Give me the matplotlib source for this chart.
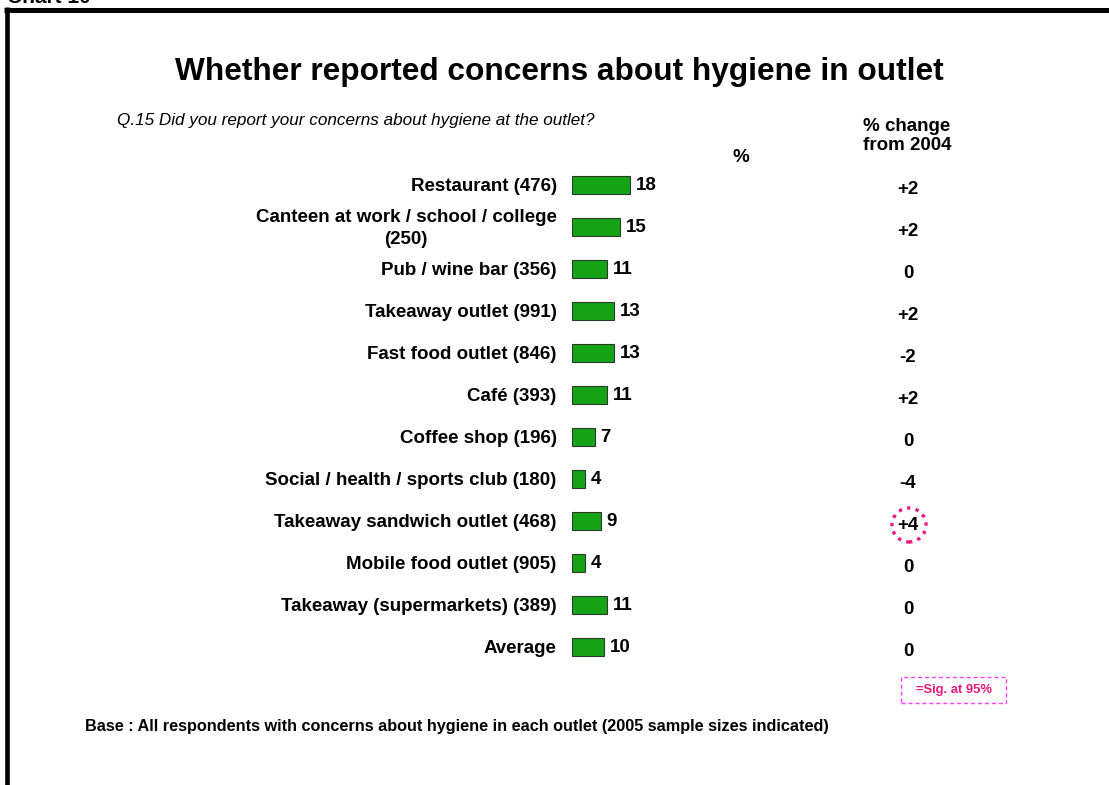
import matplotlib
matplotlib.use('Agg')
import matplotlib.pyplot as plt
from matplotlib.lines import Line2D
from matplotlib.patches import Ellipse, Rectangle

plt.rcParams['font.family'] = ['Liberation Sans', 'DejaVu Sans']

# 各场所的数据
outlets = ['Restaurant (476)', 'Canteen at work / school / college\n(250)',
           'Pub / wine bar (356)', 'Takeaway outlet (991)', 'Fast food outlet (846)',
           'Café (393)', 'Coffee shop (196)', 'Social / health / sports club (180)',
           'Takeaway sandwich outlet (468)', 'Mobile food outlet (905)',
           'Takeaway (supermarkets) (389)', 'Average']
pct = [18, 15, 11, 13, 13, 11, 7, 4, 9, 4, 11, 10]
change = ['+2', '+2', '0', '+2', '-2', '+2', '0', '-4', '+4', '0', '0', '0']
sig = [False, False, False, False, False, False, False, False, True, False, False, False]

W, H = 1109, 785
PINK = '#e8177f'
FS = 13.5


def main():
    fig = plt.figure(figsize=(W / 100, H / 100), dpi=100)

    # 条形图区域
    ax_left, ax_w = 572, 400
    ax_top, ax_h = 164, 504
    ax = fig.add_axes([ax_left / W, 1 - (ax_top + ax_h) / H, ax_w / W, ax_h / H])
    px_per_unit = 3.22
    ax.set_xlim(0, ax_w / px_per_unit)
    ax.set_ylim(len(outlets) - 0.5, -0.5)
    ax.axis('off')

    rows = list(range(len(outlets)))
    ax.barh(rows, pct, height=0.45, color='#16a316', edgecolor='#2a3a2a', linewidth=0.8)

    for i, (name, v) in enumerate(zip(outlets, pct)):
        ax.annotate(name, (0, i), xytext=(-11, -1), textcoords='offset points',
                    ha='right', va='center', fontsize=FS, fontweight='bold',
                    multialignment='center', linespacing=1.35)
        ax.annotate(str(v), (v, i), xytext=(4, 0), textcoords='offset points',
                    ha='left', va='center', fontsize=FS, fontweight='bold')

    # 与2004年相比的变化
    col_x = (908 - ax_left) / ax_w
    tr = ax.get_yaxis_transform()
    for i, (c, s) in enumerate(zip(change, sig)):
        ax.annotate(c, (col_x, i), xycoords=tr, xytext=(0, -3), textcoords='offset points',
                    ha='center', va='center', fontsize=FS, fontweight='bold')
        if s:
            yp = ax_top + 21 + 42 * i + 4
            fig.add_artist(Ellipse((909 / W, 1 - yp / H), 34 / W, 34 / H,
                                   transform=fig.transFigure, fill=False,
                                   edgecolor=PINK, linestyle=(0, (1, 1.6)), linewidth=2.4))

    # 标题和说明文字
    fig.text(559.5 / W, 1 - 72 / H, 'Whether reported concerns about hygiene in outlet',
             ha='center', va='center', fontsize=22.8, fontweight='bold')
    fig.text(117 / W, 1 - 120 / H,
             'Q.15 Did you report your concerns about hygiene at the outlet?',
             ha='left', va='center', fontsize=12.3, style='italic')
    fig.text(741 / W, 1 - 157 / H, '%', ha='center', va='center',
             fontsize=FS, fontweight='bold')
    fig.text(907 / W, 1 - 136 / H, '% change\nfrom 2004', ha='center', va='center',
             fontsize=FS, fontweight='bold', multialignment='center', linespacing=1.1)
    fig.text(85 / W, 1 - 727 / H,
             'Base : All respondents with concerns about hygiene in each outlet (2005 sample sizes indicated)',
             ha='left', va='center', fontsize=11.7, fontweight='bold')

    # 显著性图例
    fig.add_artist(Rectangle((901 / W, 1 - 703 / H), 105 / W, 26 / H,
                             transform=fig.transFigure, fill=False,
                             edgecolor='#ff44ff', linestyle=(0, (3, 2)), linewidth=1))
    fig.text(954 / W, 1 - 690 / H, '=Sig. at 95%', ha='center', va='center',
             fontsize=9.4, fontweight='bold', color=PINK)

    # 外框和页眉
    fig.text(7 / W, 1 - 3 / H, 'Chart 10', ha='left', va='baseline',
             fontsize=15, fontweight='bold')
    fig.add_artist(Line2D([4 / W, 1], [1 - 9.5 / H, 1 - 9.5 / H],
                          transform=fig.transFigure, color='black', linewidth=3.6,
                          solid_capstyle='butt'))
    fig.add_artist(Line2D([6.5 / W, 6.5 / W], [1 - 7 / H, 0],
                          transform=fig.transFigure, color='black', linewidth=3.3,
                          solid_capstyle='butt'))

    fig.savefig('out.png', dpi=100)


if __name__ == '__main__':
    main()
